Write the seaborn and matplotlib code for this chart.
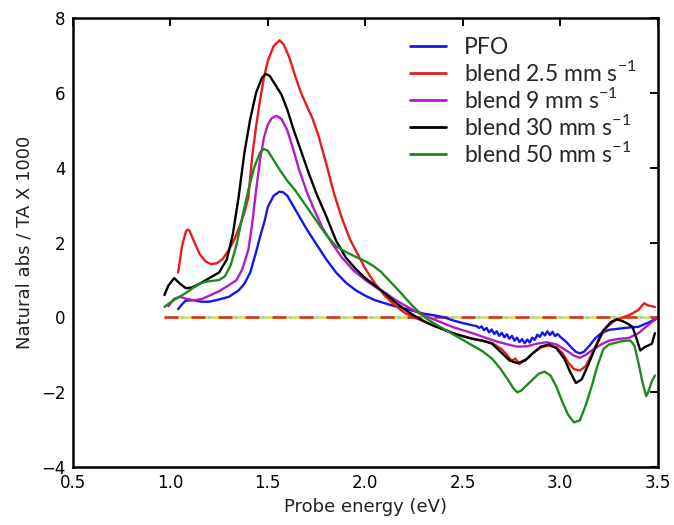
import matplotlib
matplotlib.use("Agg")
import matplotlib.pyplot as plt
from matplotlib.font_manager import FontProperties
import pandas as pd
import seaborn as sns

# ---- transient absorption spectra (natural abs / TA x 1000) ----
pfo_x = [1.04, 1.06, 1.08, 1.12, 1.16, 1.20, 1.25, 1.30, 1.35, 1.38, 1.41, 1.44, 1.46,
         1.485, 1.50, 1.53, 1.56, 1.58, 1.60, 1.65, 1.70, 1.75, 1.80, 1.85, 1.90, 1.95,
         2.00, 2.05, 2.10, 2.15, 2.20, 2.25, 2.30, 2.35, 2.40, 2.45, 2.50, 2.55,
         2.570, 2.583, 2.596, 2.609, 2.622, 2.635, 2.648, 2.661, 2.674, 2.687, 2.700,
         2.713, 2.726, 2.739, 2.752, 2.765, 2.778, 2.791, 2.804, 2.817, 2.830, 2.843,
         2.856, 2.869, 2.882, 2.895, 2.908, 2.921, 2.934, 2.947, 2.960, 2.973, 2.986,
         3.00, 3.03, 3.06, 3.08, 3.10, 3.12, 3.15, 3.18, 3.21, 3.25, 3.30, 3.35, 3.40,
         3.45, 3.485]
pfo_y = [0.22, 0.35, 0.45, 0.46, 0.42, 0.42, 0.48, 0.55, 0.72, 0.90, 1.20, 1.75, 2.15,
         2.60, 2.95, 3.25, 3.36, 3.34, 3.25, 2.80, 2.35, 1.95, 1.55, 1.20, 0.93, 0.73,
         0.58, 0.46, 0.38, 0.30, 0.24, 0.17, 0.10, 0.06, 0.01, -0.08, -0.15, -0.21,
         -0.23, -0.28, -0.24, -0.34, -0.28, -0.40, -0.32, -0.44, -0.37, -0.49, -0.41,
         -0.53, -0.45, -0.57, -0.49, -0.62, -0.54, -0.66, -0.58, -0.69, -0.59, -0.67,
         -0.54, -0.60, -0.46, -0.52, -0.40, -0.48, -0.37, -0.47, -0.38, -0.50, -0.44,
         -0.52, -0.65, -0.82, -0.92, -0.96, -0.92, -0.75, -0.55, -0.42, -0.33, -0.30,
         -0.27, -0.25, -0.14, -0.05]

b25_x = [1.04, 1.06, 1.08, 1.09, 1.10, 1.12, 1.15, 1.18, 1.21, 1.24, 1.27, 1.30, 1.33,
         1.36, 1.38, 1.40, 1.42, 1.44, 1.46, 1.48, 1.50, 1.53, 1.56, 1.58, 1.61, 1.64,
         1.67, 1.70, 1.73, 1.76, 1.80, 1.84, 1.88, 1.92, 1.96, 2.00, 2.05, 2.10, 2.15,
         2.20, 2.25, 2.30, 2.35, 2.40, 2.45, 2.50, 2.55, 2.60, 2.65, 2.70, 2.73, 2.75,
         2.77, 2.79, 2.81, 2.83, 2.86, 2.90, 2.94, 2.98, 3.01, 3.04, 3.07, 3.10, 3.13,
         3.16, 3.20, 3.24, 3.28, 3.32, 3.36, 3.40, 3.43, 3.45, 3.485]
b25_y = [1.20, 1.90, 2.30, 2.35, 2.30, 2.05, 1.70, 1.50, 1.42, 1.45, 1.57, 1.80, 2.10,
         2.50, 2.80, 3.20, 4.30, 5.10, 5.80, 6.40, 6.85, 7.25, 7.40, 7.30, 6.95, 6.45,
         6.00, 5.65, 5.30, 4.85, 4.10, 3.30, 2.65, 2.10, 1.70, 1.30, 0.90, 0.58, 0.33,
         0.13, 0.00, -0.10, -0.22, -0.32, -0.42, -0.50, -0.57, -0.62, -0.68, -0.85,
         -1.02, -1.15, -1.10, -1.25, -1.15, -1.10, -0.95, -0.80, -0.75, -0.80, -0.95,
         -1.20, -1.38, -1.42, -1.30, -1.00, -0.55, -0.25, -0.08, 0.00, 0.08, 0.20,
         0.38, 0.32, 0.28]

b9_x = [0.99, 1.02, 1.05, 1.08, 1.12, 1.16, 1.20, 1.25, 1.30, 1.34, 1.37, 1.40, 1.42,
        1.44, 1.46, 1.48, 1.50, 1.52, 1.545, 1.57, 1.60, 1.63, 1.66, 1.70, 1.74, 1.78,
        1.83, 1.88, 1.94, 2.00, 2.05, 2.11, 2.16, 2.21, 2.28, 2.35, 2.45, 2.55, 2.62,
        2.68, 2.73, 2.78, 2.83, 2.88, 2.93, 2.98, 3.03, 3.07, 3.10, 3.13, 3.17, 3.21,
        3.25, 3.30, 3.35, 3.40, 3.44, 3.47, 3.49]
b9_y = [0.30, 0.50, 0.55, 0.50, 0.46, 0.49, 0.58, 0.70, 0.86, 1.00, 1.30, 1.80, 2.50,
        3.40, 4.20, 4.80, 5.15, 5.32, 5.38, 5.30, 5.00, 4.50, 3.95, 3.35, 2.85, 2.40,
        1.97, 1.60, 1.25, 1.00, 0.82, 0.63, 0.45, 0.30, 0.10, -0.05, -0.26, -0.42,
        -0.55, -0.65, -0.72, -0.78, -0.77, -0.70, -0.66, -0.72, -0.88, -1.02, -1.08,
        -1.00, -0.85, -0.72, -0.62, -0.57, -0.55, -0.42, -0.25, -0.12, -0.05]

b30_x = [0.97, 0.99, 1.02, 1.05, 1.08, 1.11, 1.15, 1.20, 1.25, 1.29, 1.32, 1.35, 1.38,
         1.41, 1.44, 1.47, 1.49, 1.51, 1.54, 1.57, 1.60, 1.63, 1.67, 1.71, 1.75, 1.80,
         1.85, 1.90, 1.95, 2.00, 2.05, 2.10, 2.15, 2.20, 2.25, 2.30, 2.35, 2.40, 2.45,
         2.50, 2.55, 2.60, 2.65, 2.70, 2.74, 2.78, 2.82, 2.86, 2.90, 2.94, 2.98, 3.02,
         3.05, 3.08, 3.11, 3.14, 3.18, 3.22, 3.26, 3.29, 3.32, 3.35, 3.37, 3.39, 3.41,
         3.43, 3.45, 3.47, 3.485]
b30_y = [0.60, 0.85, 1.05, 0.90, 0.78, 0.80, 0.90, 1.05, 1.20, 1.55, 2.20, 3.20, 4.40,
         5.30, 6.00, 6.40, 6.50, 6.45, 6.20, 5.95, 5.55, 5.05, 4.45, 3.85, 3.30, 2.70,
         2.05, 1.60, 1.30, 1.05, 0.85, 0.65, 0.42, 0.22, 0.05, -0.10, -0.22, -0.32,
         -0.42, -0.50, -0.57, -0.62, -0.70, -0.95, -1.15, -1.22, -1.15, -0.95, -0.78,
         -0.72, -0.82, -1.10, -1.45, -1.75, -1.65, -1.30, -0.80, -0.35, -0.12, -0.05,
         -0.10, -0.18, -0.25, -0.55, -0.88, -0.80, -0.75, -0.70, -0.42]

b50_x = [0.97, 1.00, 1.03, 1.07, 1.12, 1.16, 1.19, 1.22, 1.25, 1.28, 1.31, 1.34, 1.37,
         1.40, 1.43, 1.46, 1.48, 1.50, 1.53, 1.56, 1.60, 1.64, 1.68, 1.72, 1.76, 1.80,
         1.85, 1.90, 1.95, 2.00, 2.04, 2.08, 2.12, 2.16, 2.20, 2.24, 2.28, 2.32, 2.36,
         2.40, 2.45, 2.50, 2.55, 2.60, 2.65, 2.69, 2.73, 2.76, 2.78, 2.80, 2.83, 2.86,
         2.89, 2.92, 2.95, 2.98, 3.01, 3.04, 3.07, 3.10, 3.13, 3.16, 3.19, 3.22, 3.25,
         3.28, 3.31, 3.34, 3.36, 3.38, 3.40, 3.42, 3.44, 3.45, 3.47, 3.485]
b50_y = [0.28, 0.40, 0.50, 0.62, 0.80, 0.92, 0.96, 0.98, 1.00, 1.10, 1.40, 1.95, 2.70,
         3.40, 4.00, 4.40, 4.50, 4.45, 4.20, 3.95, 3.65, 3.40, 3.10, 2.80, 2.50, 2.20,
         1.90, 1.75, 1.62, 1.50, 1.38, 1.22, 1.00, 0.78, 0.55, 0.32, 0.12, -0.05, -0.18,
         -0.30, -0.45, -0.60, -0.75, -0.90, -1.10, -1.35, -1.65, -1.90, -2.00, -1.95,
         -1.80, -1.65, -1.50, -1.45, -1.55, -1.85, -2.25, -2.60, -2.80, -2.75, -2.35,
         -1.85, -1.30, -0.85, -0.72, -0.68, -0.64, -0.62, -0.62, -0.75, -1.20, -1.70,
         -2.10, -2.00, -1.70, -1.55]

labels = ["PFO",
          r"blend 2.5 mm s$^{\mathregular{-1}}$",
          r"blend 9 mm s$^{\mathregular{-1}}$",
          r"blend 30 mm s$^{\mathregular{-1}}$",
          r"blend 50 mm s$^{\mathregular{-1}}$"]
colors = ["#1515f0", "#e81c1c", "#b21cc8", "#000000", "#1e8a1e"]

x_ticks = [0.5, 1.0, 1.5, 2.0, 2.5, 3.0, 3.5]
y_ticks = [-4, -2, 0, 2, 4, 6, 8]

series = [pfo_x, b25_x, b9_x, b30_x, b50_x]
values = [pfo_y, b25_y, b9_y, b30_y, b50_y]
df = pd.concat(
    [pd.DataFrame({"energy": xs, "signal": ys, "sample": lab})
     for xs, ys, lab in zip(series, values, labels)],
    ignore_index=True)

sns.set_style("white")
plt.rcParams["font.family"] = ["DejaVu Sans"]
plt.rcParams["mathtext.fontset"] = "custom"
plt.rcParams["mathtext.rm"] = "Lato"

fig = plt.figure(figsize=(6.74, 5.25), dpi=100)
ax = fig.add_axes([0.108, 0.110, 0.868, 0.856])

# zero baseline: overlapping dashed reference lines
ax.hlines(0, 0.97, 3.5, colors="#d9d94a", lw=1.8, zorder=1)
ax.hlines(0, 0.97, 3.5, colors="#7fd0e0", lw=1.8, linestyles=(4.2, (1.0, 9.8)), zorder=1)
ax.hlines(0, 0.97, 3.5, colors="#e02828", lw=1.8, linestyles=(0, (5.6, 5.2)), zorder=1)

sns.lineplot(data=df, x="energy", y="signal", hue="sample", hue_order=labels,
             palette=colors, sort=False, estimator=None, linewidth=1.7, ax=ax,
             zorder=3)

ax.set_xlim(0.5, 3.5)
ax.set_ylim(-4, 8)
ax.set_xticks(x_ticks)
ax.set_yticks(y_ticks)
ax.set_xticklabels([f"{t:.1f}" for t in x_ticks])
ax.tick_params(direction="in", length=6, width=1.4, top=True, right=True,
               labelsize=12, colors="black", pad=5)
for sp in ax.spines.values():
    sp.set_linewidth(1.8)
    sp.set_color("black")

ax.set_xlabel("Probe energy (eV)", fontsize=13, color="#222222", labelpad=4)
ax.set_ylabel("Natural abs / TA X 1000", fontsize=13, color="#222222", labelpad=6)

leg = ax.legend(frameon=False, loc="upper right",
                prop=FontProperties(family="Lato", size=16.5),
                handlelength=1.53, handletextpad=0.8, labelspacing=0.08,
                borderaxespad=0.0, borderpad=0.4, bbox_to_anchor=(0.979, 0.977))
for line in leg.get_lines():
    line.set_linewidth(2.0)

fig.savefig("out.png", dpi=100)
